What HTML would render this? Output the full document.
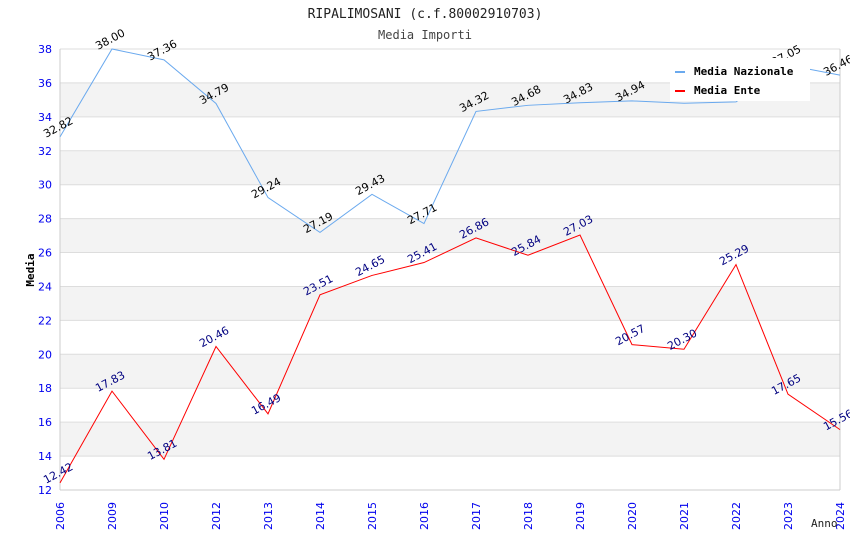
<!DOCTYPE html>
<html><head><meta charset="utf-8"><style>
body{margin:0;background:#fff;}
svg{display:block;font-family:"DejaVu Sans","Liberation Sans",sans-serif;}
</style></head><body>
<svg id="c" width="850" height="550">
<text x="425" y="18" text-anchor="middle" font-family="DejaVu Sans Mono,monospace" font-size="13" fill="#222">RIPALIMOSANI (c.f.80002910703)</text>
<text x="425" y="39" text-anchor="middle" font-family="DejaVu Sans Mono,monospace" font-size="12" fill="#444">Media Importi</text>
<g id="grid"></g>
<g id="axes"></g>
<g id="series"></g>
<text x="34" y="270" transform="rotate(-90 34 270)" text-anchor="middle" font-family="DejaVu Sans Mono,monospace" font-weight="bold" font-size="11">Media</text>
<text x="811" y="527" font-family="DejaVu Sans Mono,monospace" font-size="11" fill="#222">Anno</text>
<g>
<rect x="670" y="58" width="140" height="43" fill="#fff"/>
<rect x="675" y="71" width="10" height="2" fill="#6aa9ee"/>
<text x="694" y="75" font-family="DejaVu Sans Mono,monospace" font-weight="bold" font-size="11">Media Nazionale</text>
<rect x="675" y="90" width="10" height="2" fill="#ff0000"/>
<text x="694" y="94" font-family="DejaVu Sans Mono,monospace" font-weight="bold" font-size="11">Media Ente</text>
</g>
</svg>
<script>
const years=["2006","2009","2010","2012","2013","2014","2015","2016","2017","2018","2019","2020","2021","2022","2023","2024"];
const nazionale=[32.82,38.00,37.36,34.79,29.24,27.19,29.43,27.71,34.32,34.68,34.83,34.94,34.80,34.88,37.05,36.46];
const nazionaleShown=[true,true,true,true,true,true,true,true,true,true,true,true,false,false,true,true];
const ente=[12.42,17.83,13.81,20.46,16.49,23.51,24.65,25.41,26.86,25.84,27.03,20.57,20.30,25.29,17.65,15.56];
const yTicks=[12,14,16,18,20,22,24,26,28,30,32,34,36,38];
const NS="http://www.w3.org/2000/svg";
const L=60,R=840,T=49,B=490,yMin=12,yMax=38;
const xs=i=>L+i*(R-L)/(years.length-1);
const ys=v=>B-(v-yMin)*(B-T)/(yMax-yMin);
function mk(tag,attrs,parent){const e=document.createElementNS(NS,tag);for(const k in attrs)e.setAttribute(k,attrs[k]);parent.appendChild(e);return e;}
const grid=document.getElementById('grid'),axes=document.getElementById('axes'),ser=document.getElementById('series');
for(let i=0;i<yTicks.length-1;i++){
 const lo=yTicks[i],hi=yTicks[i+1];
 const r=mk('rect',{x:L,y:ys(hi),width:R-L,height:ys(lo)-ys(hi),fill:(lo%4===2)?'#f3f3f3':'#fff'},grid);
 
 
}
yTicks.forEach(v=>{
 const l=mk('line',{x1:L,x2:R,y1:ys(v),y2:ys(v),stroke:'#ddd','stroke-width':1},grid);
 
 
 const t=mk('text',{x:L-8,y:ys(v)+4,'text-anchor':'end','font-size':11,fill:'#0000ee'},axes);
 t.textContent=v;
 
 
});
mk('line',{x1:L,x2:L,y1:T,y2:B,stroke:'#ccc'},axes);
mk('line',{x1:R,x2:R,y1:T,y2:B,stroke:'#ccc'},axes);
mk('line',{x1:L,x2:R,y1:B,y2:B,stroke:'#ccc'},axes);
years.forEach((y,i)=>{
 const x=xs(i)+4,yy=B+40;
 const t=mk('text',{x:x,y:yy,transform:`rotate(-90 ${x} ${yy})`,'font-size':11,fill:'#0000ee'},axes);
 t.textContent=y;
 
 
});
function series(vals,color,lblColor,name,shown){
 const p=mk('polyline',{points:vals.map((v,i)=>xs(i)+','+ys(v)).join(' '),fill:'none',stroke:color,'stroke-width':1},ser);
 
 
 vals.forEach((v,i)=>{
  if(shown&&!shown[i])return;
  const x=xs(i)-14,y=ys(v)+1;
  const t=mk('text',{x:x,y:y,transform:`rotate(-28 ${x} ${y})`,'font-size':11,fill:lblColor},ser);
  t.textContent=v.toFixed(2);
  
  
 });
}
series(nazionale,'#6aa9ee','#000','nazionale',nazionaleShown);
series(ente,'#ff0000','#000080','ente',null);
</script>
</body></html>
